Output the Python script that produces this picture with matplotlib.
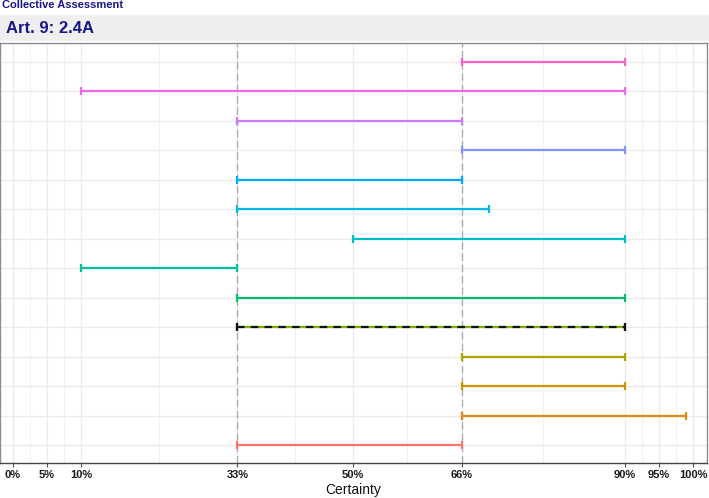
import matplotlib
matplotlib.use("Agg")
import matplotlib.pyplot as plt
from matplotlib.patches import Rectangle

plt.rcParams['font.family'] = ['Liberation Sans', 'DejaVu Sans']

# ---- data (rows listed top to bottom) ----
experts = ["E1", "E2", "E3", "E4", "E5", "E6", "E7", "E8", "E9",
           "Collective", "E10", "E11", "E12", "E13"]
lower = [66, 10, 33, 66, 33, 33, 50, 10, 33, 33, 66, 66, 66, 33]
upper = [90, 90, 66, 90, 66, 70, 90, 33, 90, 90, 90, 90, 99, 66]
colors = ["#FF61C9", "#ED68ED", "#C77CFF", "#8494FF", "#00A9FF", "#00B8E7",
          "#00BFC4", "#00C19A", "#00BE67", "#7CAE00", "#ABA300", "#CD9600",
          "#E68613", "#F8766D"]
collective_name = "Collective"
tick_vals = [0, 5, 10, 33, 50, 66, 90, 95, 100]
tick_labels = ["0%", "5%", "10%", "33%", "50%", "66%", "90%", "95%", "100%"]
ref_lines = [33, 66]

W, H = 709, 498
fig = plt.figure(figsize=(W / 100, H / 100), dpi=100)
ax = fig.add_axes([0 / W, 1 - 463 / H, 707 / W, (463 - 43) / H])

n = len(experts)
ypos = [n - i for i in range(n)]

# gridlines
minor = [(tick_vals[i] + tick_vals[i + 1]) / 2 for i in range(len(tick_vals) - 1)]
for m in minor:
    ax.axvline(m, color="#F0F0F0", lw=0.7, zorder=0)
for t in tick_vals:
    ax.axvline(t, color="#EBEBEB", lw=1.0, zorder=0)
for y in ypos:
    ax.axhline(y, color="#EBEBEB", lw=1.0, zorder=0)

for r in ref_lines:
    ax.axvline(r, color="#A8A8A8", lw=0.9, linestyle=(0, (6, 3)), zorder=1)

for name, lo, up, c, y in zip(experts, lower, upper, colors, ypos):
    mid = (lo + up) / 2
    half = (up - lo) / 2
    ax.errorbar(mid, y, xerr=half, fmt='none', ecolor=c, elinewidth=1.6,
                capsize=3.0, capthick=1.6, zorder=3)
    if name == collective_name:
        eb = ax.errorbar(mid, y, xerr=half, fmt='none', ecolor="#111111",
                         elinewidth=1.6, capsize=3.0, capthick=1.6, zorder=4)
        eb[2][0].set_linestyle((0, (3.4, 2.8)))

ax.set_xlim(-1.9, 102.05)
ax.set_ylim(0.4, n + 0.64)
ax.set_xticks(tick_vals)
ax.set_xticklabels(tick_labels, fontsize=8, fontweight='bold', color="#1a1a1a")
ax.set_yticks([])
ax.tick_params(axis='x', length=3, width=0.8, color="#555555", pad=2)
ax.set_xlabel("Certainty", fontsize=10, color="#111111", labelpad=2)

for side in ["top", "left", "right"]:
    ax.spines[side].set_color("#8C8C8C")
    ax.spines[side].set_linewidth(1.0)
ax.spines["bottom"].set_color("#444444")
ax.spines["bottom"].set_linewidth(1.0)

# strip
fig.patches.append(Rectangle((0, 1 - 41 / H), 1, 26 / H, transform=fig.transFigure,
                             facecolor="#EFEFEF", edgecolor="none", zorder=0))
fig.text(6 / W, 1 - 28.5 / H, "Art. 9: 2.4A", fontsize=12, fontweight='bold',
         color="#16168A", va='center', ha='left')
fig.text(2 / W, 1 - 5 / H, "Collective Assessment", fontsize=8, fontweight='bold',
         color="#16168A", va='center', ha='left')

fig.savefig("out.png", dpi=100)
